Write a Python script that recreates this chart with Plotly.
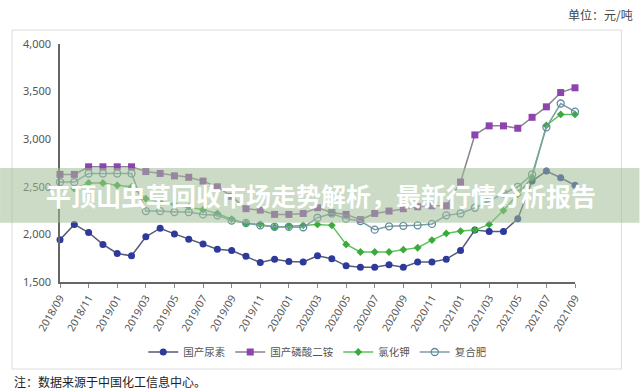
import plotly.graph_objects as go

months = [f"{y}/{m:02d}" for y, m in
          [(2018, m) for m in range(9, 13)] + [(2019, m) for m in range(1, 13)] +
          [(2020, m) for m in range(1, 13)] + [(2021, m) for m in range(1, 10)]]

urea = [1945, 2105, 2020, 1895, 1800, 1775, 1975, 2065, 2005, 1950, 1900, 1845,
        1830, 1770, 1705, 1740, 1715, 1710, 1775, 1745, 1670, 1655, 1655, 1680,
        1655, 1710, 1710, 1740, 1830, 2045, 2030, 2030, 2165, 2560, 2665, 2595, 2515]
dap = [2630, 2630, 2710, 2710, 2710, 2710, 2660, 2640, 2615, 2600, 2560, 2500,
       2400, 2270, 2255, 2210, 2210, 2220, 2280, 2230, 2210, 2155, 2220, 2245,
       2270, 2290, 2300, 2300, 2550, 3045, 3140, 3140, 3115, 3230, 3340, 3490, 3540]
kcl = [None, 2480, 2540, 2540, 2515, 2500, 2375, 2340, 2315, 2290, 2260, 2220,
       2160, 2115, 2105, 2075, 2085, 2095, 2105, 2095, 1895, 1815, 1815, 1815,
       1840, 1860, 1940, 2010, 2035, 2045, 2105, 2250, 2420, 2600, 3145, 3260, 3260]
compound = [2550, 2550, 2640, 2640, 2640, 2640, 2245, 2245, 2235, 2235, 2210, 2200,
            2145, 2120, 2095, 2080, 2080, 2075, 2175, 2220, 2165, 2140, 2050, 2085,
            2090, 2095, 2110, 2200, 2220, 2280, 2350, 2430, 2500, 2630, 3125, 3375, 3290]

names = ["国产尿素", "国产磷酸二铵", "氯化钾", "复合肥"]
y_ticks = [1500, 2000, 2500, 3000, 3500, 4000]
x_ticks = months[::2]

W, H = 640, 391
L, R, T, B = 60, 64.5, 44, 109
pw, ph = W - L - R, H - T - B


def px_x(x):
    return (x - L) / pw


def px_y(y):
    return (H - B - y) / ph


fig = go.Figure()
fig.add_trace(go.Scatter(x=months, y=urea, name=names[0], mode="lines+markers",
                         line=dict(color="#55597a", width=1.5),
                         marker=dict(symbol="circle", size=7, color="#2d3a9c"),
                         cliponaxis=False))
fig.add_trace(go.Scatter(x=months, y=dap, name=names[1], mode="lines+markers",
                         line=dict(color="#8a8290", width=1.5),
                         marker=dict(symbol="square", size=7, color="#8e44b0"),
                         cliponaxis=False))
fig.add_trace(go.Scatter(x=months, y=kcl, name=names[2], mode="lines+markers",
                         line=dict(color="#5cc35c", width=1.5),
                         marker=dict(symbol="diamond", size=6, color="#3aaa3a"),
                         cliponaxis=False))
fig.add_trace(go.Scatter(x=months, y=compound, name=names[3], mode="lines+markers",
                         line=dict(color="#7f9ea8", width=1.5),
                         marker=dict(symbol="circle-open", size=7, color="#5f8c9c",
                                     line=dict(width=1.3)),
                         cliponaxis=False))

font_main = "Noto Sans, Noto Sans CJK SC, sans-serif"

fig.update_layout(
    width=W, height=H,
    margin=dict(l=L, r=R, t=T, b=B, autoexpand=False),
    paper_bgcolor="white", plot_bgcolor="white",
    font=dict(family=font_main, size=11, color="#555555"),
    showlegend=True,
    legend=dict(orientation="h", x=px_x(318), xanchor="center", y=px_y(352),
                yanchor="middle", font=dict(size=10.5, color="#555555"), itemwidth=30,
                tracegroupgap=0, bgcolor="rgba(0,0,0,0)"),
    xaxis=dict(type="category", range=[0, len(months) - 1], tickmode="array",
               tickvals=x_ticks, ticktext=x_ticks, tickangle=-60,
               showgrid=False, showline=True, linecolor="#666666", linewidth=1.5,
               ticks="outside", ticklen=4, tickcolor="#888888",
               tickfont=dict(size=10.5, color="#555555"), zeroline=False),
    yaxis=dict(range=[1500, 4000], tickmode="array", tickvals=y_ticks,
               tickformat=",d", showgrid=False, showline=True,
               linecolor="#666666", linewidth=1.5, ticks="", zeroline=False,
               tickfont=dict(size=11, color="#555555"), ticklabelstandoff=5),
    shapes=[
        dict(type="rect", xref="paper", yref="paper",
             x0=px_x(12), x1=px_x(622), y0=px_y(369), y1=px_y(30),
             line=dict(color="#dcdcdc", width=1), fillcolor="rgba(0,0,0,0)",
             layer="below"),
        dict(type="rect", xref="paper", yref="paper",
             x0=px_x(0), x1=px_x(640), y0=px_y(222.7), y1=px_y(168),
             line=dict(width=0), fillcolor="rgba(160,190,150,0.55)", layer="above"),
    ],
    annotations=[
        dict(text="单位：元/吨", xref="paper", yref="paper", x=px_x(636), y=px_y(14),
             xanchor="right", yanchor="middle", showarrow=False,
             font=dict(size=12, color="#444444", family="Noto Sans CJK SC")),
        dict(text="注：数据来源于中国化工信息中心。", xref="paper", yref="paper",
             x=px_x(12), y=px_y(381), xanchor="left", yanchor="middle",
             showarrow=False,
             font=dict(size=12, color="#222222", family="Noto Sans CJK SC")),
        dict(text="<b>平顶山虫草回收市场走势解析，最新行情分析报告</b>", xref="paper",
             yref="paper", x=px_x(321), y=px_y(195), xanchor="center",
             yanchor="middle", showarrow=False,
             font=dict(size=25, color="white", family="Noto Sans CJK SC")),
    ],
)

fig.write_html("out.html", config={"displayModeBar": False},
               post_script="document.body.style.margin='0';"
               "document.body.style.padding='0';")
